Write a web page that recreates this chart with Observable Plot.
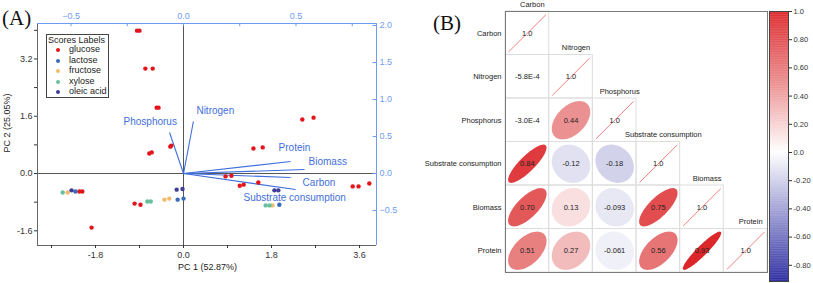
<!DOCTYPE html>
<html><head><meta charset="utf-8">
<script src="https://cdn.jsdelivr.net/npm/d3@7"></script>
<script src="https://cdn.jsdelivr.net/npm/@observablehq/plot@0.6"></script>
<style>
body{margin:0;background:#fff;}
#root{position:relative;width:813px;height:283px;overflow:hidden;font-family:"Liberation Sans",Arial,sans-serif;background:#fff;}
#root svg{position:absolute;}
.t{position:absolute;white-space:nowrap;color:#222;}
</style></head><body><div id="root"></div>
<script>
// ---------- Panel A data: PCA scores ----------
const groups = ["glucose","lactose","fructose","xylose","oleic acid"];
const groupColors = ["#e3151b","#3a6bbb","#f3bb6b","#68c19e","#3f3f9b"];
const glucosePC1 = [-0.95,-0.90,-0.78,-0.63,-0.55,-0.51,-0.70,-0.65,-0.27,-0.25,-2.13,-2.07,-1.00,-0.88,-1.88,2.43,2.66,1.43,1.62,0.86,0.98,1.15,1.23,1.53,3.46,3.58,3.80];
const glucosePC2 = [3.99,3.99,2.93,2.93,1.84,1.84,0.56,0.59,0.75,0.78,-0.50,-0.50,-0.84,-0.87,-1.51,1.51,1.56,0.70,0.73,-0.08,-0.06,-0.34,-0.31,-0.25,-0.36,-0.36,-0.28];
const lactosePC1 = [-2.21,-0.12,0.0,1.96];
const lactosePC2 = [-0.50,-0.73,-0.70,-0.87];
const fructosePC1 = [-2.37,-0.39,-0.29,1.82];
const fructosePC2 = [-0.53,-0.73,-0.70,-0.89];
const xylosePC1 = [-2.47,-0.74,-0.67,1.68,1.76];
const xylosePC2 = [-0.53,-0.78,-0.78,-0.89,-0.89];
const oleicPC1 = [-2.29,-0.14,-0.02,1.86,1.94];
const oleicPC2 = [-0.47,-0.45,-0.43,-0.47,-0.47];
// ---------- Panel A data: loadings ----------
const loadNames = ["Carbon","Nitrogen","Phosphorus","Substrate consumption","Biomass","Protein"];
const loadPC1 = [0.476,0.044,-0.062,0.498,0.538,0.476];
const loadPC2 = [-0.054,0.703,0.554,-0.216,0.054,0.162];
// ---------- tick labels ----------
const bottomTicks = [-1.8,0,1.8,3.6];
const bottomMinor = [-2.7,-0.9,0.9,2.7];
const leftTicks = [-1.6,0,1.6,3.2];
const leftMinor = [-0.8,0.8,2.4,4.0];
const topTicks = [-0.5,0,0.5];
const topMinor = [-0.25,0.25,0.75];
const rightTicks = [-0.5,0,0.5,1.0,1.5,2.0];
// ---------- Panel B data: correlation matrix (lower triangle) ----------
const vars = ["Carbon","Nitrogen","Phosphorus","Substrate consumption","Biomass","Protein"];
const corrNitrogen = [-0.00058];
const corrPhosphorus = [-0.00030,0.44];
const corrSubstrate = [0.84,-0.12,-0.18];
const corrBiomass = [0.70,0.13,-0.093,0.75];
const corrProtein = [0.51,0.27,-0.061,0.56,0.93];
const colorbarTicks = [1.0,0.8,0.6,0.4,0.2,0,-0.2,-0.4,-0.6,-0.8];
const colorbarLabels = ["1.0","0.80","0.60","0.40","0.20","0.0","-0.20","-0.40","-0.60","-0.80"];

const root = document.getElementById("root");
function put(el, left, top){ el.style.left = left+"px"; el.style.top = top+"px"; root.appendChild(el); return el; }
function txt(s, left, top, css){ const d = document.createElement("div"); d.className="t"; d.textContent=s; Object.assign(d.style, css||{}); return put(d,left,top); }

// ================= Panel A =================
const xDom = [-2.986, 3.947], yDom = [-2.01, 4.19];
const kx = 4.601, ky = 2.067; // loading-axis to score-axis factors
const blue = "#3f6fdc", axisBlue = "#6f9cf0";
const pcs1 = [glucosePC1,lactosePC1,fructosePC1,xylosePC1,oleicPC1];
const pcs2 = [glucosePC2,lactosePC2,fructosePC2,xylosePC2,oleicPC2];
const scores = [];
groups.forEach((g,gi)=>pcs1[gi].forEach((v,i)=>scores.push({group:g, pc1:v, pc2:pcs2[gi][i]})));
const loadings = loadNames.map((n,i)=>({name:n, x:loadPC1[i]*kx, y:loadPC2[i]*ky}));
const labelOff = {"Carbon":[12,5],"Nitrogen":[3,-11],"Phosphorus":[-46,-11],"Substrate consumption":[-52,8],"Biomass":[4,-8],"Protein":[-12,-14]};
const near = (a, arr) => arr.some(v => Math.abs(v-a) < 1e-6);

const plotA = Plot.plot({
  width: 420, height: 283, marginLeft: 37, marginRight: 44, marginTop: 23, marginBottom: 38,
  x: {domain: xDom}, y: {domain: yDom},
  color: {domain: groups, range: groupColors},
  style: {background: "transparent", fontFamily: "Liberation Sans, Arial, sans-serif", fontSize: "9px", overflow: "visible"},
  marks: [
    Plot.ruleX([0], {stroke: "#555"}),
    Plot.ruleY([0], {stroke: "#555"}),
    Plot.ruleX([xDom[0]], {stroke: "#666"}),
    Plot.ruleY([yDom[0]], {stroke: "#666"}),
    Plot.ruleX([xDom[1]], {stroke: axisBlue}),
    Plot.ruleY([yDom[1]], {stroke: axisBlue}),
    Plot.axisX({anchor: "bottom", ticks: bottomTicks.concat(bottomMinor), tickFormat: d => near(d,bottomTicks) ? d.toFixed(1) : "", tickSize: 3, tickPadding: 3, label: null, color: "#333"}),
    Plot.axisY({anchor: "left", ticks: leftTicks.concat(leftMinor), tickFormat: d => near(d,leftTicks) ? d.toFixed(1) : "", tickSize: 3, tickPadding: 2, label: null, color: "#333"}),
    Plot.axisX({anchor: "top", ticks: topTicks.map(v=>v*kx), tickFormat: d => { const v = d/kx; return (v < -1e-9 ? "\u2212" : "") + Math.abs(v).toFixed(1); }, tickSize: 0, tickPadding: 5, label: null, color: axisBlue}),
    Plot.ruleX(topTicks.concat(topMinor).map(v=>v*kx), {y1: yDom[1], y2: yDom[1]-0.09, stroke: axisBlue}),
    Plot.axisY({anchor: "right", ticks: rightTicks.map(v=>v*ky), tickFormat: d => { const v = d/ky; return (v < -1e-9 ? "\u2212" : "") + Math.abs(v).toFixed(1); }, tickSize: 0, tickPadding: 3, label: null, color: axisBlue}),
    Plot.ruleY(rightTicks.map(v=>v*ky), {x1: xDom[1], x2: xDom[1]-0.07, stroke: axisBlue}),
    Plot.link(loadings, {x1: () => 0, y1: () => 0, x2: "x", y2: "y", stroke: blue, strokeWidth: 1.1}),
    ...loadings.map(l => Plot.text([l], {x: "x", y: "y", text: "name", textAnchor: "start", dx: labelOff[l.name][0], dy: labelOff[l.name][1], fill: blue, fontSize: 10})),
    Plot.dot(scores, {x: "pc1", y: "pc2", fill: "group", r: 2.2, stroke: "none"})
  ]
});
put(plotA, 0, 0);

// legend (Scores Labels)
const leg = document.createElement("div");
Object.assign(leg.style, {position:"absolute", width:"63px", height:"64px", border:"1px solid #444", background:"#fff", boxSizing:"border-box"});
put(leg, 46, 34);
txt("Scores Labels", 48, 35, {fontSize:"9px"});
groups.forEach((g,i)=>{
  const y = 45 + i*10.5;
  const dot = document.createElement("div");
  Object.assign(dot.style, {position:"absolute", width:"4px", height:"4px", borderRadius:"50%", background: groupColors[i]});
  put(dot, 56, y+3);
  txt(g, 69, y-1, {fontSize:"9px"});
});
txt("PC 1 (52.87%)", 178, 262, {fontSize:"9px"});
const pc2 = txt("PC 2 (25.05%)", 0, 0, {fontSize:"9px"});
Object.assign(pc2.style, {left:"-23px", top:"118px", transform:"rotate(-90deg)"});
txt("(A)", 2, 6, {fontFamily:"Liberation Serif, serif", fontSize:"21px", color:"#111"});
txt("(B)", 433, 11, {fontFamily:"Liberation Serif, serif", fontSize:"21px", color:"#111"});

// ================= Panel B =================
const corrRows = [[], corrNitrogen, corrPhosphorus, corrSubstrate, corrBiomass, corrProtein];
const cells = [];
corrRows.forEach((row,i)=>row.forEach((r,j)=>cells.push({row:i, col:j, r})));
const diag = vars.map((v,i)=>({row:i, col:i, name:v}));
const gridCells = cells.concat(diag);
const fmt = r => Math.abs(r) < 0.001 ? r.toExponential(1).toUpperCase() : Math.abs(r) < 0.1 ? r.toFixed(3) : r.toFixed(2);
const ellipsePts = [];
cells.forEach((c,k)=>{
  const d = Math.acos(c.r);
  for (let s = 0; s <= 90; s++) {
    const t = s/90*2*Math.PI;
    ellipsePts.push({id:k, r:c.r, x: c.col + 0.5 + 0.44*Math.cos(t + d/2), y: c.row + 0.5 - 0.44*Math.cos(t - d/2)});
  }
});
const colorScale = {type: "linear", domain: [-0.915, 0, 0.5, 1], range: ["#1b1b9a", "#ffffff", "#e98282", "#da181c"], interpolate: "rgb"};
const styleB = {background: "transparent", fontFamily: "Liberation Sans, Arial, sans-serif", fontSize: "7.5px", overflow: "visible"};

const plotB = Plot.plot({
  width: 350, height: 283, marginLeft: 85, marginRight: 3, marginTop: 11, marginBottom: 11,
  x: {domain: [0, 6], axis: null}, y: {domain: [0, 6], reverse: true, axis: null},
  color: colorScale,
  style: styleB,
  marks: [
    Plot.rect(gridCells, {x1: "col", x2: d => d.col + 1, y1: "row", y2: d => d.row + 1, fill: "none", stroke: "#dddddd"}),
    Plot.line(ellipsePts, {x: "x", y: "y", z: "id", fill: "r", stroke: "none"}),
    Plot.link(diag, {x1: d => d.col + 0.07, y1: d => d.row + 0.93, x2: d => d.col + 0.93, y2: d => d.row + 0.07, stroke: "#f08080", strokeWidth: 1}),
    Plot.text(diag, {x: d => d.col + 0.5, y: d => d.row + 0.5, text: () => "1.0", fill: "#222"}),
    Plot.text(cells, {x: d => d.col + 0.5, y: d => d.row + 0.5, text: d => fmt(d.r), fill: "#222"}),
    Plot.text(diag, {x: () => 0, y: d => d.row + 0.5, text: "name", textAnchor: "end", dx: -4, fill: "#222"}),
    Plot.text(diag, {x: d => d.col + 0.5, y: d => d.row, text: "name", dx: 5, dy: -7, fill: "#222"}),
    Plot.frame({stroke: "#7a7a7a"})
  ]
});
put(plotB, 420, 0);

// colorbar
const barVals = d3.range(-0.915, 1.0, 0.005);
const plotC = Plot.plot({
  width: 53, height: 283, marginLeft: 9, marginRight: 25, marginTop: 11, marginBottom: 2,
  x: {domain: [0, 1], axis: null}, y: {domain: [-0.915, 1]},
  color: colorScale,
  style: styleB,
  marks: [
    Plot.rect(barVals, {x1: () => 0, x2: () => 1, y1: d => d, y2: d => Math.min(1, d + 0.006), fill: d => d}),
    Plot.frame({stroke: "#444"}),
    Plot.axisY({anchor: "right", ticks: colorbarTicks, tickFormat: d => colorbarLabels[colorbarTicks.findIndex(v => Math.abs(v-d) < 1e-9)], tickSize: 3, tickPadding: 2, label: null, color: "#333"})
  ]
});
put(plotC, 760, 0);
</script></body></html>
